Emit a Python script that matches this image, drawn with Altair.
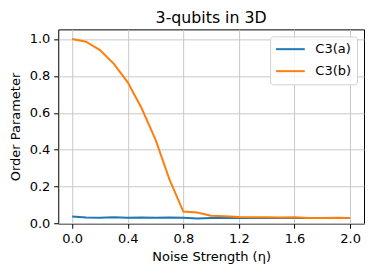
import altair as alt
import pandas as pd

eta = [0.0, 0.1, 0.2, 0.3, 0.4, 0.5, 0.6, 0.7, 0.8, 0.9, 1.0, 1.1, 1.2, 1.3, 1.4, 1.5, 1.6, 1.7, 1.8, 1.9, 2.0]
c3a = [0.038, 0.033, 0.032, 0.034, 0.032, 0.033, 0.032, 0.033, 0.032, 0.028, 0.031, 0.031, 0.031, 0.030, 0.031, 0.030, 0.031, 0.030, 0.030, 0.030, 0.030]
c3b = [1.0, 0.985, 0.94, 0.865, 0.765, 0.625, 0.455, 0.24, 0.065, 0.06, 0.043, 0.04, 0.036, 0.035, 0.034, 0.033, 0.034, 0.031, 0.030, 0.032, 0.031]
series = ["C3(a)", "C3(b)"]
colors = ["#1f77b4", "#ff7f0e"]
x_ticks = [0.0, 0.4, 0.8, 1.2, 1.6, 2.0]
y_ticks = [0.0, 0.2, 0.4, 0.6, 0.8, 1.0]

rows = []
for x, a, b in zip(eta, c3a, c3b):
    rows.append({"eta": x, "value": a, "series": series[0]})
    rows.append({"eta": x, "value": b, "series": series[1]})
df = pd.DataFrame(rows)

font = "DejaVu Sans"

chart = alt.Chart(df).mark_line(strokeWidth=2, clip=True).encode(
    x=alt.X("eta:Q", scale=alt.Scale(domain=[-0.1, 2.1], nice=False, zero=False),
            axis=alt.Axis(values=x_ticks, format=".1f", title="Noise Strength (η)",
                          titlePadding=5.5)),
    y=alt.Y("value:Q", scale=alt.Scale(domain=[0.0, 1.052], nice=False, zero=False),
            axis=alt.Axis(values=y_ticks, format=".1f", title="Order Parameter",
                          titlePadding=6.5)),
    color=alt.Color("series:N", scale=alt.Scale(domain=series, range=colors),
                    legend=alt.Legend(title=None, orient="top-right",
                                      symbolType="M-1.05,0H3.37",
                                      symbolStrokeWidth=2, symbolSize=169,
                                      labelFontSize=13, labelFont=font,
                                      labelOffset=25, fillColor="rgba(255,255,255,0.8)",
                                      strokeColor="#d0d0d0", padding=5.3, cornerRadius=3,
                                      offset=7, rowPadding=7, labelColor="black")),
).properties(
    width=306, height=194.4,
    title=alt.TitleParams("3-qubits in 3D", fontSize=15.8, font=font, fontWeight="normal",
                          color="black", offset=3),
    autosize=alt.AutoSizeParams(type="none"),
    padding={"left": 50.3, "top": 21.3, "right": 2, "bottom": 40},
).configure_view(
    stroke="black", strokeWidth=1
).configure_axis(
    grid=True, gridColor="#c8c8c8", gridWidth=1,
    domain=False, tickColor="black", tickSize=4.6,
    labelFont=font, labelFontSize=13, labelColor="black",
    titleFont=font, titleFontSize=13, titleFontWeight="normal", titleColor="black",
    labelPadding=3.8,
)

chart.save("out.html", embed_options={"renderer": "svg", "actions": False})
